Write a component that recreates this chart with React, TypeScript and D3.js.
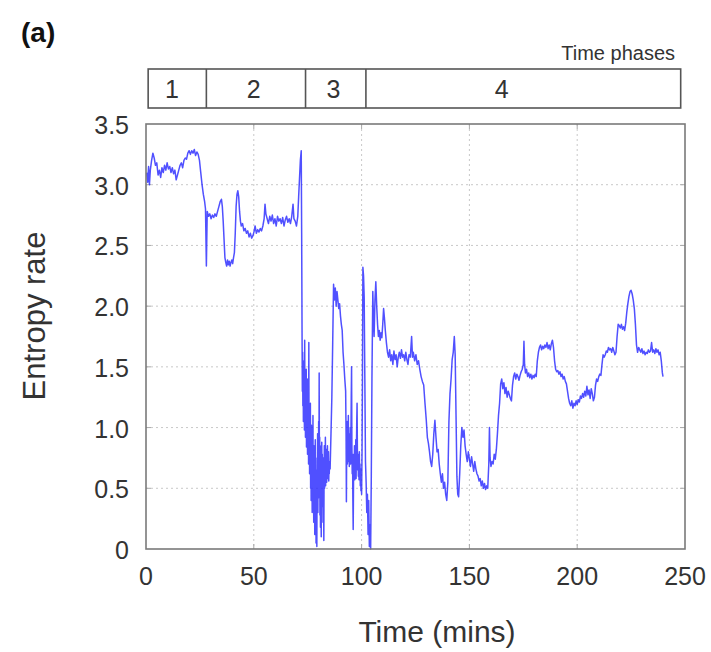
import React from "react";
import * as d3 from "d3";

// ---- Data ----
const xTicks = [0, 50, 100, 150, 200, 250];
const yTicks = [0, 0.5, 1.0, 1.5, 2.0, 2.5, 3.0, 3.5];
const phaseLabels = ["1", "2", "3", "4"];
const phaseBounds = [1, 28, 74, 102, 248]; // minutes
const phaseLabelTimes = [12, 50, 87, 165]; // where each phase number sits

const phase1Series: [number, number][] = [
  [0.3, 3.1], [0.8, 3.02], [1.2, 3.15], [1.6, 3.0], [2.0, 3.12], [2.6, 3.2], [3.2, 3.26], [3.8, 3.22],
  [4.4, 3.16], [5.0, 3.18], [5.6, 3.08], [6.2, 3.12], [6.8, 3.06], [7.4, 3.14], [8.0, 3.1], [8.6, 3.16],
  [9.2, 3.12], [9.8, 3.18], [10.4, 3.13], [11.0, 3.15], [11.6, 3.1], [12.2, 3.14], [12.8, 3.09], [13.4, 3.12],
  [14.0, 3.04], [14.6, 3.08], [15.2, 3.12], [15.8, 3.16], [16.4, 3.18], [17.0, 3.14], [17.6, 3.2], [18.2, 3.22],
  [18.8, 3.21], [19.4, 3.26], [20.0, 3.28], [20.6, 3.25], [21.2, 3.28], [21.8, 3.26], [22.4, 3.29], [23.0, 3.24],
  [23.6, 3.27], [24.2, 3.25], [24.8, 3.2], [25.4, 3.1], [26.0, 3.0], [26.6, 2.92], [27.2, 2.86], [27.6, 2.8],
];

const phase2Series: [number, number][] = [
  [28.0, 2.33], [28.4, 2.78], [29.0, 2.74], [29.6, 2.76], [30.2, 2.72], [30.8, 2.75], [31.4, 2.73], [32.0, 2.76],
  [32.6, 2.74], [33.2, 2.78], [33.8, 2.82], [34.4, 2.86], [35.0, 2.88], [35.4, 2.82], [35.8, 2.7], [36.2, 2.55],
  [36.6, 2.4], [37.0, 2.36], [37.4, 2.33], [37.8, 2.38], [38.2, 2.34], [38.6, 2.37], [39.0, 2.33], [39.4, 2.36],
  [39.8, 2.38], [40.2, 2.35], [40.6, 2.4], [41.0, 2.44], [41.4, 2.6], [41.8, 2.82], [42.2, 2.92], [42.6, 2.95],
  [43.0, 2.9], [43.4, 2.78], [43.8, 2.7], [44.2, 2.66], [44.8, 2.68], [45.4, 2.62], [46.0, 2.64], [46.6, 2.6],
  [47.2, 2.62], [47.8, 2.57], [48.4, 2.6], [49.0, 2.56], [49.6, 2.58], [50.2, 2.62], [50.6, 2.66], [51.2, 2.6],
  [51.8, 2.63], [52.4, 2.61], [53.0, 2.64], [53.6, 2.62], [54.2, 2.66], [54.8, 2.72], [55.2, 2.84], [55.6, 2.76],
  [56.2, 2.72], [56.8, 2.68], [57.4, 2.74], [58.0, 2.7], [58.6, 2.75], [59.2, 2.68], [59.8, 2.72], [60.4, 2.66],
  [61.0, 2.74], [61.6, 2.7], [62.2, 2.72], [62.8, 2.68], [63.4, 2.73], [64.0, 2.66], [64.6, 2.71], [65.2, 2.74],
  [65.8, 2.69], [66.4, 2.72], [67.0, 2.68], [67.6, 2.74], [68.2, 2.84], [68.6, 2.72], [69.2, 2.7], [69.8, 2.66],
  [70.4, 2.74], [70.8, 2.9], [71.2, 3.05], [71.6, 3.2], [72.0, 3.28],
];

const phase3Series: [number, number][] = [
  [72.2, 2.6], [72.4, 1.7], [72.52, 1.3], [72.64, 1.62], [72.76, 1.18], [72.88, 1.5], [73.0, 1.05], [73.12, 1.42],
  [73.24, 1.25], [73.36, 1.55], [73.48, 0.98], [73.6, 1.72], [73.72, 1.12], [73.84, 1.38], [73.96, 0.92], [74.08, 1.3],
  [74.2, 1.02], [74.32, 1.48], [74.44, 0.84], [74.56, 1.25], [74.68, 0.95], [74.8, 1.4], [74.92, 0.78], [75.04, 1.15],
  [75.16, 0.88], [75.28, 1.32], [75.4, 0.7], [75.52, 1.7], [75.64, 0.82], [75.76, 1.1], [75.88, 0.62], [76.0, 1.05],
  [76.12, 0.74], [76.24, 1.2], [76.36, 0.5], [76.48, 0.95], [76.6, 0.4], [76.72, 1.02], [76.84, 0.58], [76.96, 0.88],
  [77.08, 0.3], [77.2, 0.8], [77.32, 0.52], [77.44, 1.1], [77.56, 0.35], [77.68, 0.72], [77.8, 0.22], [77.92, 0.85],
  [78.04, 0.45], [78.16, 0.68], [78.28, 0.12], [78.4, 0.62], [78.52, 0.9], [78.64, 0.3], [78.76, 0.75], [78.88, 0.05],
  [79.0, 0.55], [79.12, 0.25], [79.24, 0.02], [79.36, 0.65], [79.48, 0.38], [79.6, 0.95], [79.72, 0.3], [79.84, 0.8],
  [79.96, 0.42], [80.08, 1.05], [80.2, 0.5], [80.32, 1.45], [80.44, 0.6], [80.56, 0.92], [80.68, 0.28], [80.8, 0.85],
  [80.92, 0.18], [81.04, 0.72], [81.16, 0.4], [81.28, 0.1], [81.4, 0.66], [81.52, 0.88], [81.64, 0.35], [81.76, 0.78],
  [81.88, 0.48], [82.0, 0.7], [82.12, 0.22], [82.24, 0.75], [82.36, 0.55], [82.48, 0.07], [82.6, 0.62], [82.72, 0.85],
  [82.84, 0.5], [82.96, 0.8], [83.08, 0.58], [83.2, 0.92], [83.32, 0.52], [83.44, 0.76], [83.56, 0.6], [83.68, 0.82],
  [83.8, 0.55], [83.92, 0.72], [84.04, 0.62], [84.16, 0.85], [84.28, 0.58], [84.4, 0.74], [84.52, 0.64], [84.64, 0.8],
  [84.76, 0.56], [84.88, 0.7], [85.0, 0.62], [85.15, 0.72], [85.4, 0.66], [85.8, 0.95], [86.2, 1.25], [86.6, 1.7],
  [87.0, 2.18], [87.4, 2.05], [87.8, 2.15], [88.2, 2.0], [88.6, 2.12], [89.0, 2.05], [89.4, 1.98], [89.8, 2.02],
  [90.2, 1.92], [90.6, 1.85], [91.0, 1.8], [91.4, 1.62], [91.8, 1.52], [92.2, 1.4], [92.6, 1.3], [92.8, 0.95],
  [92.95, 0.39], [93.1, 0.9], [93.25, 1.05], [93.4, 0.7], [93.55, 1.0], [93.7, 0.8], [93.85, 1.1], [94.0, 0.72],
  [94.15, 0.95], [94.3, 0.68], [94.45, 0.88], [94.6, 0.75], [94.75, 1.0], [94.9, 0.7], [95.05, 0.92], [95.2, 1.25],
  [95.35, 1.5], [95.5, 0.85], [95.65, 0.62], [95.8, 0.78], [95.95, 0.4], [96.1, 0.16], [96.25, 0.55], [96.4, 0.78],
  [96.55, 0.6], [96.7, 0.85], [96.85, 0.57], [97.0, 0.75], [97.15, 0.62], [97.3, 0.9], [97.45, 0.58], [97.6, 0.82],
  [97.75, 1.05], [97.9, 1.2], [98.05, 0.8], [98.2, 0.65], [98.35, 0.78], [98.5, 0.6], [98.65, 0.72], [98.8, 0.57],
  [98.95, 0.8], [99.1, 0.62], [99.25, 0.7], [99.4, 0.52], [99.55, 0.66], [99.7, 0.48], [99.85, 0.58], [100.0, 0.45],
  [100.2, 0.8], [100.4, 1.4], [100.6, 2.32], [100.9, 2.25], [101.2, 2.07], [101.5, 1.4],
];

const phase4Series: [number, number][] = [
  [101.8, 0.72], [102.1, 0.55], [102.4, 0.3], [102.7, 0.45], [103.0, 0.12], [103.3, 0.4], [103.6, 0.02], [103.9, 0.2],
  [104.2, 0.0], [104.5, 0.6], [104.8, 1.4], [105.2, 2.12], [105.5, 1.9], [105.8, 1.75], [106.2, 2.05], [106.6, 2.2],
  [107.0, 2.0], [107.4, 1.85], [107.8, 1.75], [108.2, 1.8], [108.6, 1.72], [109.0, 1.78], [109.4, 1.74], [109.8, 1.85],
  [110.2, 1.98], [110.6, 1.9], [111.0, 1.8], [111.5, 1.7], [112.0, 1.62], [112.5, 1.58], [113.0, 1.64], [113.5, 1.55],
  [114.0, 1.6], [114.5, 1.52], [115.0, 1.63], [115.5, 1.56], [116.0, 1.6], [116.5, 1.5], [117.0, 1.58], [117.5, 1.62],
  [118.0, 1.57], [118.5, 1.64], [119.0, 1.58], [119.5, 1.6], [120.0, 1.55], [120.5, 1.62], [121.0, 1.56], [121.5, 1.52],
  [122.0, 1.6], [122.6, 1.58], [123.2, 1.75], [123.6, 1.58], [124.0, 1.62], [124.6, 1.55], [125.2, 1.6], [125.8, 1.52],
  [126.4, 1.55], [127.0, 1.48], [127.6, 1.42], [128.2, 1.38], [128.8, 1.35], [129.4, 1.2], [130.0, 1.06], [130.5, 0.92],
  [131.0, 0.87], [131.5, 0.8], [132.0, 0.72], [132.5, 0.68], [133.0, 0.78], [133.5, 0.95], [134.0, 1.06], [134.5, 0.92],
  [135.0, 0.8], [135.5, 0.82], [136.0, 0.7], [136.5, 0.62], [137.0, 0.55], [137.5, 0.62], [138.0, 0.5], [138.5, 0.55],
  [139.0, 0.45], [139.5, 0.4], [140.0, 0.55], [140.5, 1.05], [141.0, 1.28], [141.5, 1.4], [142.0, 1.56], [142.5, 1.62],
  [143.0, 1.75], [143.4, 1.6], [143.8, 1.1], [144.2, 0.6], [144.6, 0.45], [145.0, 0.43], [145.5, 0.62], [146.0, 0.85],
  [146.5, 1.0], [147.0, 0.92], [147.5, 0.98], [148.0, 0.85], [148.5, 0.78], [149.0, 0.72], [149.5, 0.8], [150.0, 0.74],
  [150.5, 0.68], [151.0, 0.76], [151.5, 0.7], [152.0, 0.64], [152.5, 0.72], [153.0, 0.66], [153.5, 0.62], [154.0, 0.6],
  [154.5, 0.56], [155.0, 0.58], [155.5, 0.52], [156.0, 0.56], [156.5, 0.5], [157.0, 0.54], [157.5, 0.49], [158.0, 0.52],
  [158.5, 0.5], [159.0, 0.7], [159.3, 1.0], [159.6, 0.75], [160.0, 0.68], [160.5, 0.72], [161.0, 0.7], [161.5, 0.78],
  [162.0, 0.74], [162.5, 0.82], [163.0, 0.95], [163.5, 1.1], [164.0, 1.2], [164.5, 1.36], [165.0, 1.4], [165.5, 1.32],
  [166.0, 1.37], [166.5, 1.28], [167.0, 1.33], [167.5, 1.25], [168.0, 1.3], [168.5, 1.27], [169.0, 1.24], [169.5, 1.22],
  [170.0, 1.35], [170.5, 1.42], [171.0, 1.45], [171.5, 1.4], [172.0, 1.44], [172.5, 1.42], [173.0, 1.39], [173.5, 1.43],
  [174.0, 1.46], [174.5, 1.48], [175.0, 1.52], [175.3, 1.71], [175.6, 1.52], [176.0, 1.45], [176.5, 1.48], [177.0, 1.42],
  [177.5, 1.45], [178.0, 1.41], [178.5, 1.44], [179.0, 1.4], [179.5, 1.43], [180.0, 1.41], [180.5, 1.44], [181.0, 1.42],
  [181.5, 1.55], [182.0, 1.62], [182.5, 1.66], [183.0, 1.68], [183.5, 1.64], [184.0, 1.67], [184.5, 1.65], [185.0, 1.68],
  [185.5, 1.66], [186.0, 1.7], [186.5, 1.65], [187.0, 1.68], [187.5, 1.64], [188.0, 1.69], [188.5, 1.72], [189.0, 1.66],
  [189.5, 1.55], [190.0, 1.48], [190.5, 1.46], [191.0, 1.47], [191.5, 1.44], [192.0, 1.46], [192.5, 1.42], [193.0, 1.44],
  [193.5, 1.4], [194.0, 1.42], [194.5, 1.38], [195.0, 1.36], [195.5, 1.3], [196.0, 1.24], [196.5, 1.2], [197.0, 1.18],
  [197.5, 1.22], [198.0, 1.16], [198.5, 1.2], [199.0, 1.18], [199.5, 1.22], [200.0, 1.19], [200.5, 1.23], [201.0, 1.21],
  [201.5, 1.26], [202.0, 1.24], [202.5, 1.28], [203.0, 1.25], [203.5, 1.3], [204.0, 1.26], [204.5, 1.34], [205.0, 1.27],
  [205.5, 1.31], [206.0, 1.24], [206.5, 1.32], [207.0, 1.28], [207.5, 1.22], [208.0, 1.25], [208.5, 1.35], [209.0, 1.4],
  [209.5, 1.38], [210.0, 1.42], [210.5, 1.44], [211.0, 1.43], [211.5, 1.52], [212.0, 1.6], [212.5, 1.58], [213.0, 1.6],
  [213.5, 1.63], [214.0, 1.62], [214.5, 1.66], [215.0, 1.64], [215.5, 1.65], [216.0, 1.62], [216.5, 1.66], [217.0, 1.63],
  [217.5, 1.6], [218.0, 1.62], [218.5, 1.75], [219.0, 1.85], [219.5, 1.84], [220.0, 1.82], [220.5, 1.85], [221.0, 1.81],
  [221.5, 1.83], [222.0, 1.8], [222.5, 1.86], [223.0, 1.95], [223.5, 2.02], [224.0, 2.08], [224.5, 2.12], [225.0, 2.13],
  [225.5, 2.1], [226.0, 2.05], [226.5, 1.98], [227.0, 1.85], [227.5, 1.68], [228.0, 1.62], [228.5, 1.66], [229.0, 1.64],
  [229.5, 1.62], [230.0, 1.65], [230.5, 1.61], [231.0, 1.63], [231.5, 1.6], [232.0, 1.62], [232.5, 1.61], [233.0, 1.64],
  [233.5, 1.62], [234.0, 1.63], [234.5, 1.7], [235.0, 1.62], [235.5, 1.64], [236.0, 1.61], [236.5, 1.65], [237.0, 1.62],
  [237.5, 1.64], [238.0, 1.6], [238.5, 1.62], [239.0, 1.55], [239.5, 1.45], [239.8, 1.42],
];

const W = 711;
const H = 652;
const plot = { left: 146, right: 685, top: 124, bottom: 549 };
const box = { top: 69, bottom: 108 };
const FONT = "'Liberation Sans', Arial, sans-serif";
const TEXT = "#333";

export default function App() {
  const x = d3.scaleLinear().domain([0, 250]).range([plot.left, plot.right]);
  const y = d3.scaleLinear().domain([0, 3.5]).range([plot.bottom, plot.top]);
  const series = [...phase1Series, ...phase2Series, ...phase3Series, ...phase4Series];
  const line = d3
    .line<[number, number]>()
    .x((d) => x(d[0]))
    .y((d) => y(d[1]));

  return (
    <svg
      width={W}
      height={H}
      style={{ position: "fixed", left: 0, top: 0, background: "#fff" }}
      fontFamily={FONT}
    >
      <rect x={0} y={0} width={W} height={H} fill="#fff" />
      {/* grid */}
      {yTicks.slice(1, -1).map((t) => (
        <line key={"gy" + t} x1={plot.left} x2={plot.right} y1={y(t)} y2={y(t)}
          stroke="#c8c8c8" strokeWidth={1} strokeDasharray="2,3" />
      ))}
      {xTicks.slice(1, -1).map((t) => (
        <line key={"gx" + t} x1={x(t)} x2={x(t)} y1={plot.top} y2={plot.bottom}
          stroke="#c8c8c8" strokeWidth={1} strokeDasharray="2,3" />
      ))}
      {/* small tick marks */}
      {yTicks.slice(1, -1).map((t) => (
        <g key={"ty" + t}>
          <line x1={plot.left} x2={plot.left + 5} y1={y(t)} y2={y(t)} stroke="#aaa" />
          <line x1={plot.right - 5} x2={plot.right} y1={y(t)} y2={y(t)} stroke="#aaa" />
        </g>
      ))}
      {xTicks.slice(1, -1).map((t) => (
        <g key={"tx" + t}>
          <line x1={x(t)} x2={x(t)} y1={plot.top} y2={plot.top + 5} stroke="#aaa" />
          <line x1={x(t)} x2={x(t)} y1={plot.bottom - 5} y2={plot.bottom} stroke="#aaa" />
        </g>
      ))}
      {/* data line */}
      <path d={line(series) || ""} fill="none" stroke="#2424ff" strokeWidth={1.5}
        strokeOpacity={0.8} strokeLinejoin="round" />
      {/* frame */}
      <rect x={plot.left} y={plot.top} width={plot.right - plot.left} height={plot.bottom - plot.top}
        fill="none" stroke="#7a7a7a" strokeWidth={1.6} />
      {/* y tick labels */}
      {yTicks.map((t) => (
        <text key={"ly" + t} x={plot.left - 17} y={y(t) + 10} textAnchor="end" fontSize={25} fill={TEXT}>
          {t === 0 ? "0" : t.toFixed(1)}
        </text>
      ))}
      {/* x tick labels */}
      {xTicks.map((t) => (
        <text key={"lx" + t} x={x(t)} y={585} textAnchor="middle" fontSize={25} fill={TEXT}>
          {t}
        </text>
      ))}
      {/* axis titles */}
      <text x={437} y={642} textAnchor="middle" fontSize={30} fill={TEXT}>Time (mins)</text>
      <text transform={`translate(45, ${316}) rotate(-90)`} textAnchor="middle" fontSize={31} fill={TEXT}>
        Entropy rate
      </text>
      {/* panel label */}
      <text x={21} y={42} fontSize={28} fontWeight="bold" fill="#111">(a)</text>
      {/* phase box */}
      <text x={675} y={60} textAnchor="end" fontSize={20} fill={TEXT}>Time phases</text>
      <rect x={x(phaseBounds[0])} y={box.top} width={x(phaseBounds[4]) - x(phaseBounds[0])}
        height={box.bottom - box.top} fill="none" stroke="#555" strokeWidth={1.6} />
      {phaseBounds.slice(1, -1).map((b) => (
        <line key={"pb" + b} x1={x(b)} x2={x(b)} y1={box.top} y2={box.bottom} stroke="#555" strokeWidth={1.6} />
      ))}
      {phaseLabels.map((lab, i) => (
        <text key={"pl" + lab} x={x(phaseLabelTimes[i])} y={box.top + 29}
          textAnchor="middle" fontSize={25} fill={TEXT}>
          {lab}
        </text>
      ))}
    </svg>
  );
}
